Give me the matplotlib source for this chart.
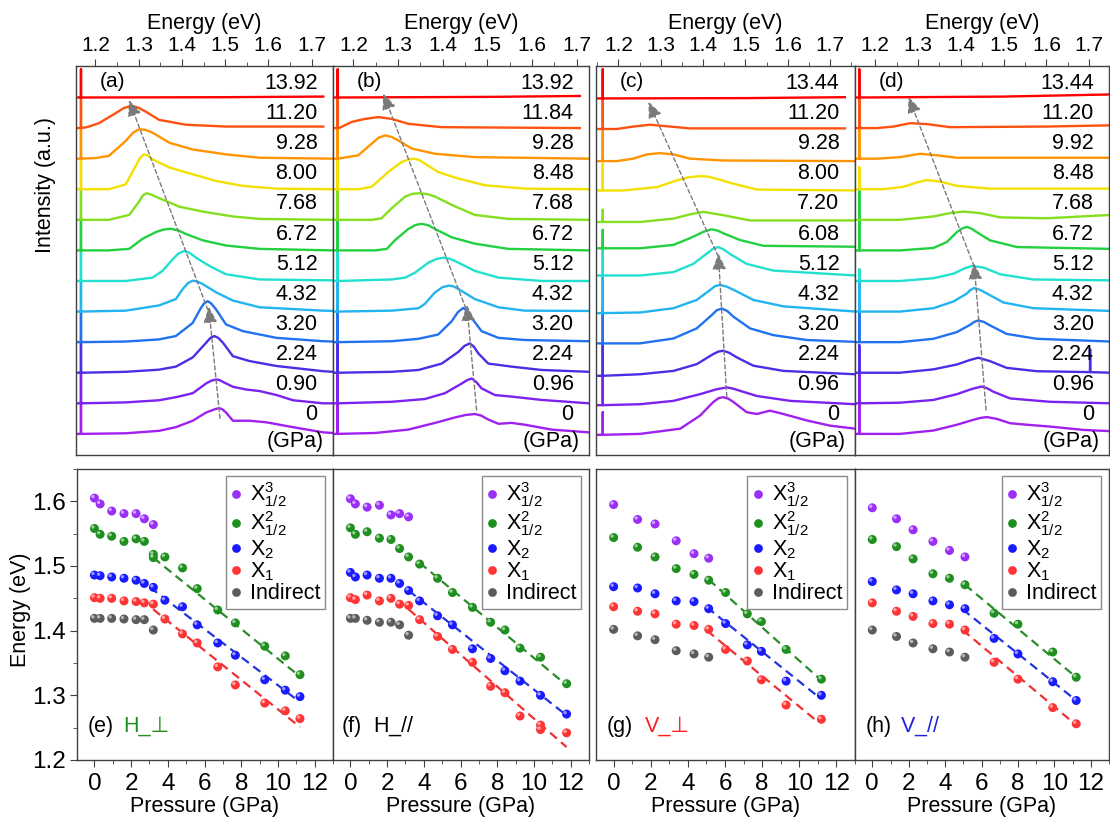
import numpy as np
import matplotlib
matplotlib.use('Agg')
import matplotlib.pyplot as plt
from matplotlib.lines import Line2D
from matplotlib.transforms import offset_copy
from matplotlib.ticker import MultipleLocator

plt.rcParams['font.family'] = ['Liberation Sans', 'DejaVu Sans']
plt.rcParams['mathtext.fontset'] = 'custom'
plt.rcParams['mathtext.rm'] = 'Liberation Sans'
plt.rcParams['mathtext.it'] = 'Liberation Sans:italic'
plt.rcParams['mathtext.bf'] = 'Liberation Sans:bold'
plt.rcParams['mathtext.default'] = 'regular'

# ---------------- top row: PL spectra (energy eV, height above baseline) ----------------
PRESS_A = ['0', '0.90', '2.24', '3.20', '4.32', '5.12', '6.72', '7.68', '8.00', '9.28', '11.20', '13.92']
PRESS_B = ['0', '0.96', '2.24', '3.20', '4.32', '5.12', '6.72', '7.68', '8.48', '9.28', '11.84', '13.92']
PRESS_C = ['0', '0.96', '2.24', '3.20', '4.32', '5.12', '6.08', '7.20', '8.00', '9.28', '11.20', '13.44']
PRESS_D = ['0', '0.96', '2.24', '3.20', '4.32', '5.12', '6.72', '7.68', '8.48', '9.92', '11.20', '13.44']

SPEC_A = [
    [(1.155, 0), (1.27, 0.02), (1.347, 0.1), (1.386, 0.22), (1.425, 0.43), (1.456, 0.7), (1.479, 0.82), (1.487, 0.84), (1.494, 0.8), (1.502, 0.7), (1.518, 0.43), (1.557, 0.43), (1.595, 0.38), (1.657, 0.22), (1.727, 0.05), (1.75, 0.03)],
    [(1.155, 0), (1.27, 0.03), (1.347, 0.1), (1.386, 0.2), (1.425, 0.33), (1.456, 0.65), (1.468, 0.74), (1.479, 0.78), (1.487, 0.76), (1.495, 0.7), (1.518, 0.54), (1.549, 0.45), (1.58, 0.4), (1.619, 0.27), (1.657, 0.1), (1.727, 0.0), (1.75, 0.0)],
    [(1.155, 0), (1.27, 0.03), (1.347, 0.1), (1.386, 0.2), (1.425, 0.5), (1.456, 0.98), (1.466, 1.14), (1.475, 1.2), (1.484, 1.14), (1.495, 0.98), (1.518, 0.54), (1.557, 0.38), (1.619, 0.22), (1.727, 0.05), (1.75, 0.03)],
    [(1.155, 0), (1.27, 0.02), (1.347, 0.09), (1.386, 0.2), (1.425, 0.63), (1.444, 1.12), (1.452, 1.28), (1.46, 1.34), (1.468, 1.26), (1.479, 1.07), (1.502, 0.58), (1.541, 0.36), (1.619, 0.14), (1.727, 0.03), (1.75, 0.02)],
    [(1.155, 0), (1.27, 0.03), (1.347, 0.2), (1.386, 0.41), (1.402, 0.74), (1.414, 0.93), (1.425, 1.01), (1.436, 0.98), (1.448, 0.9), (1.479, 0.63), (1.518, 0.36), (1.58, 0.14), (1.727, 0.03), (1.75, 0.02)],
    [(1.155, 0), (1.27, 0.0), (1.332, 0.11), (1.355, 0.33), (1.378, 0.7), (1.392, 0.9), (1.405, 0.98), (1.418, 0.92), (1.433, 0.76), (1.464, 0.49), (1.502, 0.22), (1.58, 0.05), (1.75, 0.02)],
    [(1.155, 0), (1.23, 0), (1.278, 0.05), (1.309, 0.38), (1.34, 0.6), (1.357, 0.68), (1.374, 0.71), (1.392, 0.65), (1.409, 0.54), (1.448, 0.33), (1.502, 0.16), (1.58, 0.05), (1.75, 0.0)],
    [(1.155, 0), (1.231, 0), (1.278, 0.16), (1.301, 0.6), (1.31, 0.8), (1.318, 0.87), (1.33, 0.82), (1.347, 0.71), (1.394, 0.43), (1.448, 0.27), (1.518, 0.11), (1.58, 0.03), (1.75, 0)],
    [(1.155, 0), (1.231, 0), (1.27, 0.16), (1.293, 0.76), (1.303, 1.02), (1.312, 1.14), (1.321, 1.1), (1.332, 0.98), (1.371, 0.71), (1.425, 0.49), (1.479, 0.27), (1.541, 0.11), (1.619, 0.02), (1.75, 0)],
    [(1.155, 0), (1.2, 0.02), (1.231, 0.09), (1.27, 0.58), (1.287, 0.85), (1.301, 0.96), (1.316, 0.94), (1.332, 0.85), (1.371, 0.52), (1.425, 0.3), (1.502, 0.14), (1.58, 0.03), (1.75, 0)],
    [(1.155, 0), (1.18, 0.03), (1.208, 0.16), (1.247, 0.49), (1.266, 0.66), (1.285, 0.73), (1.3, 0.66), (1.316, 0.54), (1.347, 0.27), (1.409, 0.11), (1.502, 0.05), (1.727, 0.05)],
    [(1.155, 0), (1.5, 0.01), (1.727, 0.03)],
]
SPEC_B = [
    [(1.154, 0), (1.249, 0.03), (1.323, 0.14), (1.383, 0.36), (1.428, 0.54), (1.452, 0.62), (1.472, 0.65), (1.486, 0.6), (1.502, 0.47), (1.525, 0.33), (1.554, 0.36), (1.584, 0.3), (1.644, 0.14), (1.728, 0.05)],
    [(1.154, 0), (1.286, 0.05), (1.36, 0.14), (1.405, 0.33), (1.443, 0.65), (1.455, 0.76), (1.465, 0.81), (1.475, 0.7), (1.487, 0.49), (1.517, 0.27), (1.554, 0.22), (1.622, 0.11), (1.728, 0)],
    [(1.154, 0), (1.286, 0.03), (1.346, 0.09), (1.398, 0.3), (1.435, 0.68), (1.449, 0.88), (1.461, 0.96), (1.47, 0.85), (1.48, 0.63), (1.502, 0.3), (1.554, 0.2), (1.622, 0.09), (1.728, 0.03)],
    [(1.154, 0), (1.286, 0.03), (1.346, 0.11), (1.39, 0.25), (1.42, 0.68), (1.434, 0.98), (1.446, 1.12), (1.455, 1.02), (1.465, 0.79), (1.487, 0.36), (1.525, 0.14), (1.584, 0.07), (1.728, 0.03)],
    [(1.154, 0), (1.286, 0.03), (1.346, 0.11), (1.36, 0.25), (1.383, 0.63), (1.4, 0.8), (1.414, 0.85), (1.425, 0.82), (1.435, 0.74), (1.472, 0.41), (1.525, 0.14), (1.584, 0.03), (1.728, 0.02)],
    [(1.154, 0), (1.286, 0.05), (1.316, 0.11), (1.338, 0.27), (1.368, 0.6), (1.386, 0.72), (1.401, 0.76), (1.415, 0.73), (1.428, 0.65), (1.472, 0.33), (1.525, 0.11), (1.622, 0), (1.728, 0)],
    [(1.154, 0), (1.249, 0), (1.275, 0.05), (1.293, 0.33), (1.323, 0.7), (1.339, 0.83), (1.353, 0.87), (1.368, 0.82), (1.383, 0.7), (1.42, 0.43), (1.472, 0.22), (1.547, 0.05), (1.728, 0)],
    [(1.154, 0), (1.241, 0), (1.263, 0.05), (1.286, 0.38), (1.316, 0.76), (1.332, 0.85), (1.349, 0.87), (1.366, 0.84), (1.383, 0.76), (1.42, 0.49), (1.472, 0.16), (1.547, 0.03), (1.728, 0)],
    [(1.154, 0), (1.211, 0), (1.241, 0.08), (1.278, 0.56), (1.308, 0.89), (1.323, 0.97), (1.337, 1.0), (1.348, 0.95), (1.36, 0.84), (1.39, 0.56), (1.435, 0.35), (1.495, 0.13), (1.584, 0.02), (1.728, 0)],
    [(1.154, 0), (1.174, 0.02), (1.211, 0.11), (1.241, 0.49), (1.256, 0.68), (1.271, 0.76), (1.286, 0.71), (1.3, 0.6), (1.331, 0.33), (1.383, 0.16), (1.472, 0.05), (1.728, 0)],
    [(1.154, 0), (1.168, 0.0), (1.196, 0.2), (1.226, 0.3), (1.256, 0.36), (1.286, 0.3), (1.323, 0.14), (1.398, 0.03), (1.707, 0)],
    [(1.154, 0), (1.5, 0.02), (1.707, 0.05)],
]
SPEC_C = [
    [(1.147, 0), (1.251, 0.03), (1.346, 0.2), (1.393, 0.63), (1.424, 1.07), (1.437, 1.2), (1.448, 1.23), (1.46, 1.18), (1.472, 1.07), (1.503, 0.74), (1.527, 0.68), (1.558, 0.79), (1.59, 0.68), (1.645, 0.47), (1.7, 0.3), (1.76, 0.2)],
    [(1.147, 0), (1.251, 0.03), (1.33, 0.14), (1.393, 0.36), (1.432, 0.52), (1.456, 0.58), (1.471, 0.54), (1.487, 0.47), (1.527, 0.3), (1.606, 0.14), (1.76, 0.03)],
    [(1.147, 0), (1.251, 0.05), (1.33, 0.16), (1.385, 0.38), (1.424, 0.71), (1.436, 0.79), (1.448, 0.82), (1.462, 0.75), (1.48, 0.6), (1.519, 0.33), (1.59, 0.16), (1.76, 0.05)],
    [(1.147, 0), (1.251, 0.0), (1.33, 0.16), (1.385, 0.49), (1.42, 0.92), (1.432, 1.08), (1.444, 1.14), (1.457, 1.06), (1.472, 0.87), (1.511, 0.49), (1.566, 0.27), (1.645, 0.11), (1.76, 0.05)],
    [(1.147, 0), (1.251, 0.02), (1.33, 0.16), (1.385, 0.43), (1.417, 0.76), (1.428, 0.88), (1.44, 0.92), (1.455, 0.87), (1.472, 0.76), (1.519, 0.43), (1.59, 0.22), (1.76, 0.05)],
    [(1.147, 0), (1.251, 0), (1.33, 0.11), (1.377, 0.38), (1.413, 0.76), (1.424, 0.88), (1.436, 0.93), (1.449, 0.85), (1.464, 0.7), (1.503, 0.38), (1.566, 0.16), (1.76, 0)],
    [(1.147, 0), (1.251, 0), (1.33, 0.11), (1.369, 0.33), (1.401, 0.54), (1.42, 0.62), (1.434, 0.58), (1.448, 0.49), (1.487, 0.27), (1.543, 0.08), (1.76, 0.05)],
    [(1.147, 0), (1.251, 0), (1.33, 0.11), (1.369, 0.25), (1.401, 0.33), (1.448, 0.22), (1.511, 0.05), (1.76, 0.05)],
    [(1.147, 0), (1.212, 0), (1.291, 0.11), (1.338, 0.33), (1.365, 0.43), (1.393, 0.47), (1.413, 0.45), (1.432, 0.38), (1.472, 0.22), (1.527, 0.03), (1.76, 0)],
    [(1.147, 0), (1.196, 0), (1.235, 0.08), (1.267, 0.22), (1.298, 0.26), (1.33, 0.22), (1.369, 0.08), (1.448, 0.02), (1.76, 0)],
    [(1.147, 0), (1.196, 0), (1.235, 0.08), (1.275, 0.14), (1.314, 0.09), (1.369, 0.02), (1.735, 0.02)],
    [(1.147, 0), (1.5, 0.01), (1.735, 0.04)],
]
SPEC_D = [
    [(1.153, 0), (1.258, 0), (1.336, 0.11), (1.391, 0.3), (1.429, 0.46), (1.445, 0.52), (1.461, 0.55), (1.484, 0.49), (1.515, 0.35), (1.554, 0.3), (1.608, 0.24), (1.686, 0.13), (1.75, 0.09)],
    [(1.153, 0), (1.258, 0.02), (1.336, 0.11), (1.391, 0.3), (1.426, 0.47), (1.449, 0.55), (1.462, 0.49), (1.476, 0.38), (1.515, 0.16), (1.608, 0.05), (1.75, 0)],
    [(1.153, 0), (1.258, 0), (1.336, 0.11), (1.391, 0.27), (1.422, 0.42), (1.441, 0.49), (1.468, 0.38), (1.507, 0.16), (1.577, 0.05), (1.7015, 0.02), (1.702, 0.77), (1.7025, 0.02), (1.75, 0)],
    [(1.153, 0), (1.258, 0), (1.336, 0.11), (1.391, 0.33), (1.422, 0.57), (1.431, 0.66), (1.441, 0.71), (1.454, 0.66), (1.468, 0.55), (1.507, 0.27), (1.577, 0.11), (1.75, 0.02)],
    [(1.153, 0), (1.258, 0), (1.336, 0.11), (1.383, 0.33), (1.414, 0.59), (1.422, 0.7), (1.431, 0.77), (1.445, 0.71), (1.461, 0.59), (1.499, 0.3), (1.569, 0.11), (1.75, 0.02)],
    [(1.153, 0), (1.258, 0), (1.336, 0.09), (1.383, 0.24), (1.41, 0.42), (1.426, 0.49), (1.453, 0.44), (1.492, 0.22), (1.569, 0.05), (1.75, 0.02)],
    [(1.153, 0), (1.258, 0), (1.336, 0.08), (1.367, 0.27), (1.391, 0.6), (1.402, 0.71), (1.414, 0.77), (1.425, 0.71), (1.437, 0.6), (1.468, 0.33), (1.531, 0.11), (1.75, 0.05)],
    [(1.153, 0), (1.258, 0), (1.336, 0.11), (1.375, 0.22), (1.406, 0.27), (1.445, 0.22), (1.492, 0.08), (1.6, 0.05), (1.75, 0.16)],
    [(1.153, 0), (1.219, 0), (1.266, 0.08), (1.297, 0.22), (1.321, 0.3), (1.352, 0.25), (1.391, 0.11), (1.468, 0.02), (1.75, 0.02)],
    [(1.153, 0), (1.204, 0), (1.258, 0.05), (1.305, 0.16), (1.344, 0.11), (1.391, 0.03), (1.75, 0.03)],
    [(1.153, 0), (1.204, 0), (1.243, 0.05), (1.282, 0.16), (1.321, 0.13), (1.375, 0.03), (1.6, 0.05), (1.75, 0.09)],
    [(1.153, 0), (1.5, 0.03), (1.75, 0.1)],
]
OFFS_A = list(range(12))
OFFS_B = list(range(12))
OFFS_C = [-0.03, 0.94, 1.90, 2.96, 3.95, 5.18, 6.07, 6.93, 7.96, 8.92, 9.97, 10.97]
OFFS_D = list(range(12))

# laser line spike (energy, heights per spectrum)
SPIKE_E = [1.1665, 1.165, 1.163, 1.163]
SPIKE_H_A = [1.05] * 11 + [0.92]
SPIKE_H_B = [1.05] * 11 + [0.92]
SPIKE_H_C = [0.74, 1.0, 1.1, 1.15, 1.2, 1.05, 0.6, 0.4, 0.87, 1.0, 1.0, 0.95]
SPIKE_H_D = [1.05, 1.05, 0.9, 1.0, 1.05, 0.38, 2.1, 0.0, 0.72, 0.95, 1.0, 0.92]

# peak-shift guide arrows: ((E_start, y_start), (E_end, y_end))
ARROWS_A = [((1.488, 0.51), (1.462, 4.16)), ((1.460, 4.05), (1.2775, 10.92))]
ARROWS_B = [((1.476, 0.78), (1.454, 4.22)), ((1.452, 4.10), (1.267, 11.13))]
ARROWS_C = [((1.456, 1.22), (1.436, 5.90)), ((1.436, 5.80), (1.271, 10.86))]
ARROWS_D = [((1.459, 0.78), (1.431, 5.58)), ((1.431, 5.48), (1.278, 11.02))]

SPEC_COLORS = ['#a020f0', '#7a22f0', '#4a2ee6', '#2272f0', '#22b4f0', '#22e0d0',
               '#22d040', '#84e01e', '#f2e000', '#ff9400', '#ff5210', '#ff0000']

# ---------------- bottom row: peak energies vs pressure ----------------
P_E = [0, 0.31, 0.94, 1.61, 2.27, 2.72, 3.21, 3.84, 4.8, 5.6, 6.72, 7.68, 9.28, 10.4, 11.2]
E_X3_E = [1.605, 1.596, 1.585, 1.581, 1.581, 1.573, 1.564]
P_X2h_E = [0, 0.31, 0.94, 1.61, 2.27, 2.72, 3.21, 3.21, 3.84, 4.8, 5.6, 6.72, 7.68, 9.28, 10.4, 11.2]
E_X2h_E = [1.558, 1.549, 1.546, 1.538, 1.542, 1.538, 1.518, 1.513, 1.514, 1.497, 1.465, 1.432, 1.412, 1.376, 1.361, 1.332]
E_X2_E = [1.486, 1.485, 1.483, 1.481, 1.478, 1.473, 1.467, 1.447, 1.437, 1.409, 1.381, 1.362, 1.324, 1.308, 1.298]
E_X1_E = [1.451, 1.450, 1.450, 1.446, 1.445, 1.443, 1.441, 1.418, 1.395, 1.381, 1.344, 1.316, 1.288, 1.276, 1.264]
E_IND_E = [1.419, 1.419, 1.419, 1.418, 1.417, 1.417, 1.401]
FIT_E = {'g': ((3.2, 1.513), (11.2, 1.329)), 'b': ((3.03, 1.467), (11.04, 1.293)), 'r': ((3.2, 1.433), (11.2, 1.251))}

P_F = [0, 0.27, 0.91, 1.58, 2.21, 2.68, 3.17, 3.77, 4.75, 5.56, 6.65, 7.64, 8.42, 9.24, 10.36, 11.78]
E_X3_F = [1.604, 1.596, 1.591, 1.594, 1.579, 1.581, 1.576]
E_X2h_F = [1.559, 1.549, 1.553, 1.543, 1.541, 1.527, 1.514, 1.503, 1.481, 1.459, 1.436, 1.413, 1.401, 1.373, 1.359, 1.318]
E_X2_F = [1.490, 1.483, 1.486, 1.481, 1.481, 1.473, 1.462, 1.446, 1.423, 1.409, 1.372, 1.357, 1.338, 1.322, 1.300, 1.271]
P_X1_F = [0, 0.27, 0.91, 1.58, 2.21, 2.68, 3.17, 3.77, 4.75, 5.56, 6.65, 7.64, 8.42, 9.24, 10.36, 10.36, 11.78]
E_X1_F = [1.451, 1.448, 1.455, 1.446, 1.450, 1.441, 1.439, 1.417, 1.391, 1.371, 1.351, 1.314, 1.304, 1.268, 1.254, 1.247, 1.242]
E_IND_F = [1.419, 1.419, 1.416, 1.413, 1.413, 1.409, 1.393]
FIT_F = {'g': ((3.77, 1.505), (11.81, 1.315)), 'b': ((3.17, 1.462), (11.78, 1.269)), 'r': ((3.17, 1.433), (11.78, 1.220))}

P_G = [0, 1.29, 2.23, 3.37, 4.33, 5.12, 6.03, 7.2, 7.96, 9.29, 11.19]
E_X3_G = [1.595, 1.572, 1.565, 1.539, 1.519, 1.512]
E_X2h_G = [1.544, 1.529, 1.514, 1.496, 1.487, 1.478, 1.459, 1.426, 1.414, 1.371, 1.325]
E_X2_G = [1.468, 1.466, 1.457, 1.446, 1.445, 1.434, 1.411, 1.378, 1.368, 1.322, 1.300]
E_X1_G = [1.437, 1.430, 1.426, 1.410, 1.408, 1.402, 1.371, 1.353, 1.324, 1.285, 1.263]
E_IND_G = [1.402, 1.392, 1.386, 1.369, 1.364, 1.359]
FIT_G = {'g': ((5.12, 1.479), (11.19, 1.323)), 'b': ((5.03, 1.436), (11.1, 1.296)), 'r': ((5.03, 1.400), (11.0, 1.259))}

P_H = [0, 1.33, 2.24, 3.33, 4.24, 5.09, 6.69, 8.0, 9.91, 11.2]
E_X3_H = [1.590, 1.573, 1.556, 1.538, 1.524, 1.514]
E_X2h_H = [1.541, 1.530, 1.511, 1.488, 1.481, 1.471, 1.427, 1.410, 1.367, 1.328]
E_X2_H = [1.476, 1.463, 1.457, 1.446, 1.440, 1.434, 1.388, 1.364, 1.321, 1.292]
E_X1_H = [1.443, 1.430, 1.422, 1.411, 1.410, 1.401, 1.351, 1.325, 1.281, 1.256]
E_IND_H = [1.401, 1.391, 1.381, 1.372, 1.367, 1.359]
FIT_H = {'g': ((5.09, 1.471), (11.2, 1.328)), 'b': ((4.96, 1.433), (11.2, 1.292)), 'r': ((4.96, 1.401), (11.2, 1.254))}

LEG_LABELS = [r'X$^{3}_{1/2}$', r'X$^{2}_{1/2}$', r'X$_{2}$', r'X$_{1}$', 'Indirect']
C_PUR, C_GRN, C_BLU, C_RED, C_GRY = '#9a2ff5', '#1f8f1f', '#1a1aff', '#ff3535', '#5c5c5c'
FIT_COLORS = {'g': '#2a8c2a', 'b': '#2233e0', 'r': '#f23030'}

# ---------------- figure ----------------
W, H = 1110, 825
fig = plt.figure(figsize=(W / 100, H / 100), dpi=100)


def px_axes(x0, x1, y0, y1):
    return fig.add_axes([x0 / W, 1 - y1 / H, (x1 - x0) / W, (y1 - y0) / H])


SPINE_C = '#404040'


def style_spines(ax):
    for s in ax.spines.values():
        s.set_color(SPINE_C)
        s.set_linewidth(1.0)


top_boxes = [(76, 333), (333, 589), (596, 855), (855, 1109)]
top_xlims = [(1.155, 1.7495), (1.1545, 1.7276), (1.147, 1.759), (1.153, 1.746)]
specs = [SPEC_A, SPEC_B, SPEC_C, SPEC_D]
offs = [OFFS_A, OFFS_B, OFFS_C, OFFS_D]
press = [PRESS_A, PRESS_B, PRESS_C, PRESS_D]
spike_h = [SPIKE_H_A, SPIKE_H_B, SPIKE_H_C, SPIKE_H_D]
arrows = [ARROWS_A, ARROWS_B, ARROWS_C, ARROWS_D]
top_tags = ['(a)', '(b)', '(c)', '(d)']

for k in range(4):
    x0, x1 = top_boxes[k]
    ax = px_axes(x0, x1, 66, 455)
    style_spines(ax)
    ax.set_xlim(*top_xlims[k])
    ax.set_ylim(-0.69, 12.03)
    for i, pts in enumerate(specs[k]):
        E = [p[0] for p in pts]
        Hh = [p[1] for p in pts]
        j = next(n for n, e in enumerate(E) if e > SPIKE_E[k])
        E2 = E[:j] + [SPIKE_E[k]] * 3 + E[j:]
        H2 = Hh[:j] + [0, spike_h[k][i], 0] + Hh[j:]
        ax.plot(E2, np.array(H2) + offs[k][i], color=SPEC_COLORS[i], lw=1.7,
                solid_joinstyle='round', zorder=2 + i * 0.01)
        ax.text(0.94, 0.62 + 0.986 * i, press[k][i], transform=ax.get_yaxis_transform(),
                ha='right', va='center', fontsize=15.5, color='black', zorder=5)
    ax.text(0.965, -0.26, '(GPa)', transform=ax.get_yaxis_transform(),
            ha='right', va='center', fontsize=15.5)
    ax.text(0.093, 0.959, top_tags[k], transform=ax.transAxes, ha='left', va='center', fontsize=15)
    for (s, e) in arrows[k]:
        ax.annotate('', xy=e, xytext=s,
                    arrowprops=dict(arrowstyle='-|>,head_length=0.7,head_width=0.3',
                                    linestyle=(0, (3, 2)), color='#7a7a7a', lw=1.0,
                                    shrinkA=0, shrinkB=0, mutation_scale=14), zorder=6)
    ax.xaxis.tick_top()
    ax.xaxis.set_label_position('top')
    ax.set_xticks([1.2, 1.3, 1.4, 1.5, 1.6, 1.7])
    ax.set_xticklabels(['1.2', '1.3', '1.4', '1.5', '1.6', '1.7'])
    ax.xaxis.set_minor_locator(MultipleLocator(0.05))
    ax.tick_params(axis='x', which='both', direction='out', top=True, bottom=False,
                   labelsize=15, pad=3, color=SPINE_C)
    ax.tick_params(axis='x', which='major', length=5)
    ax.tick_params(axis='x', which='minor', length=3)
    ax.set_yticks([])
    ax.set_xlabel('Energy (eV)', fontsize=15.5, labelpad=5)

fig.text(45 / W, 1 - 185 / H, 'Intensity (a.u.)', rotation=90, ha='center', va='center', fontsize=15.5)

# ---- bottom panels ----
bot_boxes = [(77, 333), (333, 589), (596, 855), (855, 1109)]
panels = [
    dict(P=P_E, x3=E_X3_E, x2hP=P_X2h_E, x2h=E_X2h_E, x2=E_X2_E, x1P=P_E, x1=E_X1_E, ind=E_IND_E, fit=FIT_E,
         tag='(e)', name='H_\u22a5', ncol='#1f8f1f', tx=0.04, nx=0.18),
    dict(P=P_F, x3=E_X3_F, x2hP=P_F, x2h=E_X2h_F, x2=E_X2_F, x1P=P_X1_F, x1=E_X1_F, ind=E_IND_F, fit=FIT_F,
         tag='(f)', name=r'H_$\mathit{//}$', ncol='black', tx=0.034, nx=0.156),
    dict(P=P_G, x3=E_X3_G, x2hP=P_G, x2h=E_X2h_G, x2=E_X2_G, x1P=P_G, x1=E_X1_G, ind=E_IND_G, fit=FIT_G,
         tag='(g)', name='V_\u22a5', ncol='#ff2020', tx=0.042, nx=0.19),
    dict(P=P_H, x3=E_X3_H, x2hP=P_H, x2h=E_X2h_H, x2=E_X2_H, x1P=P_H, x1=E_X1_H, ind=E_IND_H, fit=FIT_H,
         tag='(h)', name=r'V_$\mathit{//}$', ncol='#2020e0', tx=0.04, nx=0.177),
]


def balls(ax, P, E, color):
    ax.scatter(P, E, s=42, color=color, edgecolors='none', zorder=4)
    tr = offset_copy(ax.transData, fig=fig, x=-1.1, y=1.1, units='points')
    ax.scatter(P, E, s=6, color='white', alpha=0.55, edgecolors='none', zorder=5, transform=tr)


for k in range(4):
    x0, x1 = bot_boxes[k]
    ax = px_axes(x0, x1, 469, 760)
    style_spines(ax)
    d = panels[k]
    ax.set_xlim(-0.95, 13)
    ax.set_ylim(1.2, 1.65)
    for key in ['g', 'b', 'r']:
        (pa, ea), (pb, eb) = d['fit'][key]
        ax.plot([pa, pb], [ea, eb], ls=(0, (4, 2.5)), lw=1.6, color=FIT_COLORS[key], zorder=3)
    P = d['P']
    balls(ax, P[:len(d['x3'])], d['x3'], C_PUR)
    balls(ax, d['x2hP'], d['x2h'], C_GRN)
    balls(ax, P, d['x2'], C_BLU)
    balls(ax, d['x1P'], d['x1'], C_RED)
    balls(ax, P[:len(d['ind'])], d['ind'], C_GRY)
    handles = [Line2D([], [], ls='none', marker='o', ms=6.3, mfc=c, mec='none')
               for c in [C_PUR, C_GRN, C_BLU, C_RED, C_GRY]]
    leg = ax.legend(handles, LEG_LABELS, loc='upper right', bbox_to_anchor=(0.969, 0.976),
                    borderaxespad=0, fontsize=15.5, handlelength=0.6, handletextpad=0.35,
                    borderpad=0.2, labelspacing=0.0, fancybox=False, framealpha=1,
                    edgecolor='#8a8a8a')
    leg.get_frame().set_linewidth(1.0)
    ax.text(d['tx'], 0.115, d['tag'], transform=ax.transAxes, ha='left', va='center', fontsize=15.5)
    ax.text(d['nx'], 0.115, d['name'], transform=ax.transAxes, ha='left', va='center',
            fontsize=15.5, color=d['ncol'])
    ax.set_xticks([0, 2, 4, 6, 8, 10, 12])
    ax.xaxis.set_minor_locator(MultipleLocator(1))
    ax.tick_params(axis='x', which='both', direction='out', labelsize=17.5, pad=4, color=SPINE_C)
    ax.tick_params(axis='x', which='major', length=5)
    ax.tick_params(axis='x', which='minor', length=3)
    ax.set_xlabel('Pressure (GPa)', fontsize=15.5, labelpad=1)
    if k == 0:
        ax.set_yticks([1.2, 1.3, 1.4, 1.5, 1.6])
        ax.set_yticklabels(['1.2', '1.3', '1.4', '1.5', '1.6'])
        ax.yaxis.set_minor_locator(MultipleLocator(0.05))
        ax.tick_params(axis='y', which='both', direction='out', labelsize=17.5, pad=3, color=SPINE_C)
        ax.tick_params(axis='y', which='major', length=5)
        ax.tick_params(axis='y', which='minor', length=3)
    else:
        ax.set_yticks([])

fig.text(21 / W, 1 - 610 / H, 'Energy (eV)', rotation=90, ha='center', va='center', fontsize=15.5)

fig.savefig('out.png', dpi=100)
